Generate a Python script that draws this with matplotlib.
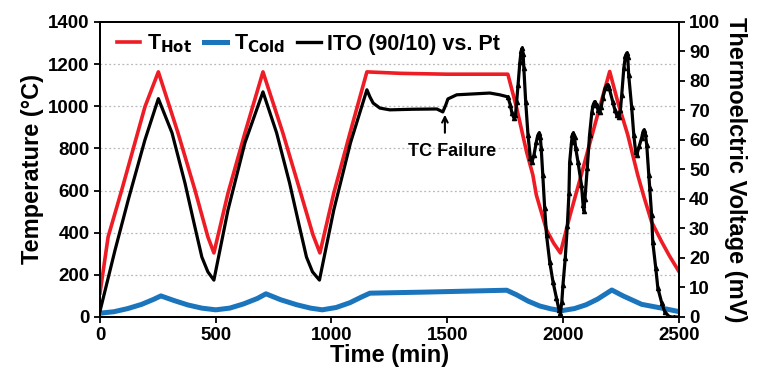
import numpy as np
import matplotlib.pyplot as plt

plt.rcParams['font.family'] = ['Liberation Sans', 'DejaVu Sans']
plt.rcParams['font.weight'] = 'bold'

# hot side temperature (degC)
t_hot = [0, 35, 94, 194, 252, 337, 410, 466, 492, 553, 626, 704,
         790, 863, 920, 950, 1010, 1080, 1153, 1300, 1500, 1762,
         1800, 1843, 1870, 1885, 1929, 1960, 1989, 2030, 2073, 2110,
         2150, 2202, 2237, 2280, 2323, 2350, 2383, 2427, 2460, 2500]
T_hot = [114, 380, 603, 997, 1163, 873, 603, 380, 304, 588, 873, 1163,
         873, 603, 390, 304, 588, 873, 1163, 1156, 1152, 1152,
         992, 783, 674, 579, 413, 350, 304, 480, 650, 800,
         960, 1165, 1020, 864, 674, 570, 451, 356, 290, 218]

# cold side temperature (degC)
t_cold = [0, 60, 120, 180, 230, 263, 320, 380, 440, 500, 560, 620,
          680, 717, 780, 850, 910, 960, 1020, 1080, 1130, 1166, 1400,
          1757, 1800, 1850, 1900, 1950, 1994, 2050, 2100, 2150, 2211,
          2260, 2340, 2427, 2500]
T_cold = [18, 25, 40, 60, 83, 100, 78, 57, 42, 34, 42, 62,
          88, 110, 82, 58, 42, 34, 45, 68, 95, 113, 118,
          127, 105, 75, 52, 38, 30, 40, 58, 85, 128,
          100, 60, 42, 26]

# ITO (90/10) vs. Pt thermoelectric voltage (mV)
t_ito = [0, 65, 122, 194, 252, 311, 367, 410, 440, 466, 492,
         553, 626, 704, 763, 819, 862, 892, 918, 948,
         1010, 1082, 1153, 1166, 1180, 1209, 1252, 1350, 1455, 1481,
         1494, 1503, 1541, 1684, 1727, 1762, 1772, 1780, 1788, 1795,
         1800, 1806, 1814, 1819, 1824, 1828, 1831, 1839, 1849, 1859,
         1866, 1875, 1885, 1891, 1897, 1902, 1906, 1913, 1921, 1929,
         1943, 1957, 1972, 1983, 1989, 1995, 2000, 2010, 2019, 2026,
         2029, 2037, 2041, 2045, 2050, 2055, 2065, 2080, 2087, 2090,
         2095, 2105, 2115, 2125, 2131, 2137, 2145, 2152, 2158, 2165,
         2172, 2182, 2189, 2194, 2200, 2215, 2225, 2232, 2241, 2248,
         2254, 2263, 2270, 2276, 2280, 2284, 2297, 2306, 2314, 2319,
         2330, 2340, 2346, 2350, 2356, 2362, 2371, 2375, 2383, 2388,
         2401, 2410, 2427, 2440, 2461, 2480, 2500]
V_ito = [2, 22.7, 39.7, 60, 74, 62.4, 45.4, 30.5, 20.3, 15.3, 12.5,
         36.3, 59, 76.3, 62.4, 45.4, 30.5, 20.3, 15.3, 12.5,
         36.3, 59, 77, 74.6, 72.5, 70.8, 70.2, 70.4, 70.5, 69.5,
         71.9, 73.9, 75.3, 75.9, 75.3, 74.6, 72, 69, 67.5, 68.5,
         73, 78.6, 86.4, 90, 91.2, 89, 84.4, 73, 61.7, 54,
         52.5, 55, 59.3, 61.5, 62.4, 61, 57.3, 48, 37, 27.8,
         18.6, 11.9, 6.4, 2.4, 1.4, 5, 10.8, 20, 31, 42,
         52.5, 59.3, 61.8, 62.4, 61, 57.3, 52.5, 44.7, 38, 36,
         40, 50.5, 61.7, 69.5, 72, 73, 72, 70, 69.5, 71,
         74.2, 77.5, 78.6, 78.6, 77.5, 73, 70, 68.5, 67.8, 70,
         75.3, 84.4, 88.5, 89.5, 88, 82, 71, 61.7, 56, 55,
         58, 60.7, 62.8, 63.4, 62, 58.3, 48, 43.7, 34.6, 25.4,
         16.6, 9.8, 4.7, 1.7, 0, 0, 0]

fig = plt.figure(figsize=(7.6, 3.78), dpi=100)
ax = fig.add_axes([0.1316, 0.1614, 0.7614, 0.7806])
ax2 = ax.twinx()

ax.plot(t_hot, T_hot, color='#ee1c24', lw=2.6, label='T$_{\\mathbf{Hot}}$', zorder=3)
ax.plot(t_cold, T_cold, color='#1b75bc', lw=3.6, label='T$_{\\mathbf{Cold}}$', zorder=3)
start = t_ito.index(1762)
ax2.plot(t_ito, V_ito, color='black', lw=2.3, marker='^', ms=3,
         markevery=list(range(start, len(t_ito))), zorder=4)
ax.plot([], [], color='black', lw=2.4, label='ITO (90/10) vs. Pt')

ax.set_xlim(0, 2500)
ax.set_ylim(0, 1400)
ax2.set_ylim(0, 100)
ax.set_xticks(np.arange(0, 2501, 500))
ax.set_yticks(np.arange(0, 1401, 200))
ax2.set_yticks(np.arange(0, 101, 10))
for y in range(200, 1400, 200):
    ax.axhline(y, color='#b8b8b8', lw=0.9, ls=(0, (1.5, 2)), zorder=1)

ax.tick_params(labelsize=13.5, width=1.3, length=4, direction='out')
ax2.tick_params(labelsize=13.5, width=1.3, length=4, direction='out')
for a in (ax, ax2):
    for s in a.spines.values():
        s.set_linewidth(1.4)

ax.set_xlabel('Time (min)', fontsize=17, fontweight='bold', labelpad=0)
ax.set_ylabel('Temperature (\u00b0C)', fontsize=17, fontweight='bold', labelpad=3)
ax2.set_ylabel('Thermoelctric Voltage (mV)', fontsize=17, fontweight='bold',
               rotation=270, labelpad=19)

# thermocouple failure marker
ax2.annotate('', xy=(1490, 69.5), xytext=(1490, 61.5),
             arrowprops=dict(arrowstyle='->', color='black', lw=1.5))
ax2.text(1522, 56, 'TC Failure', fontsize=13, fontweight='bold',
         ha='center', va='center')

ax.legend(loc='upper left', ncol=3, frameon=False, fontsize=15.5,
          handlelength=1.1, handletextpad=0.3, columnspacing=0.55,
          borderaxespad=0.1, bbox_to_anchor=(0.01, 1.0))

fig.savefig('out.png', dpi=100)
